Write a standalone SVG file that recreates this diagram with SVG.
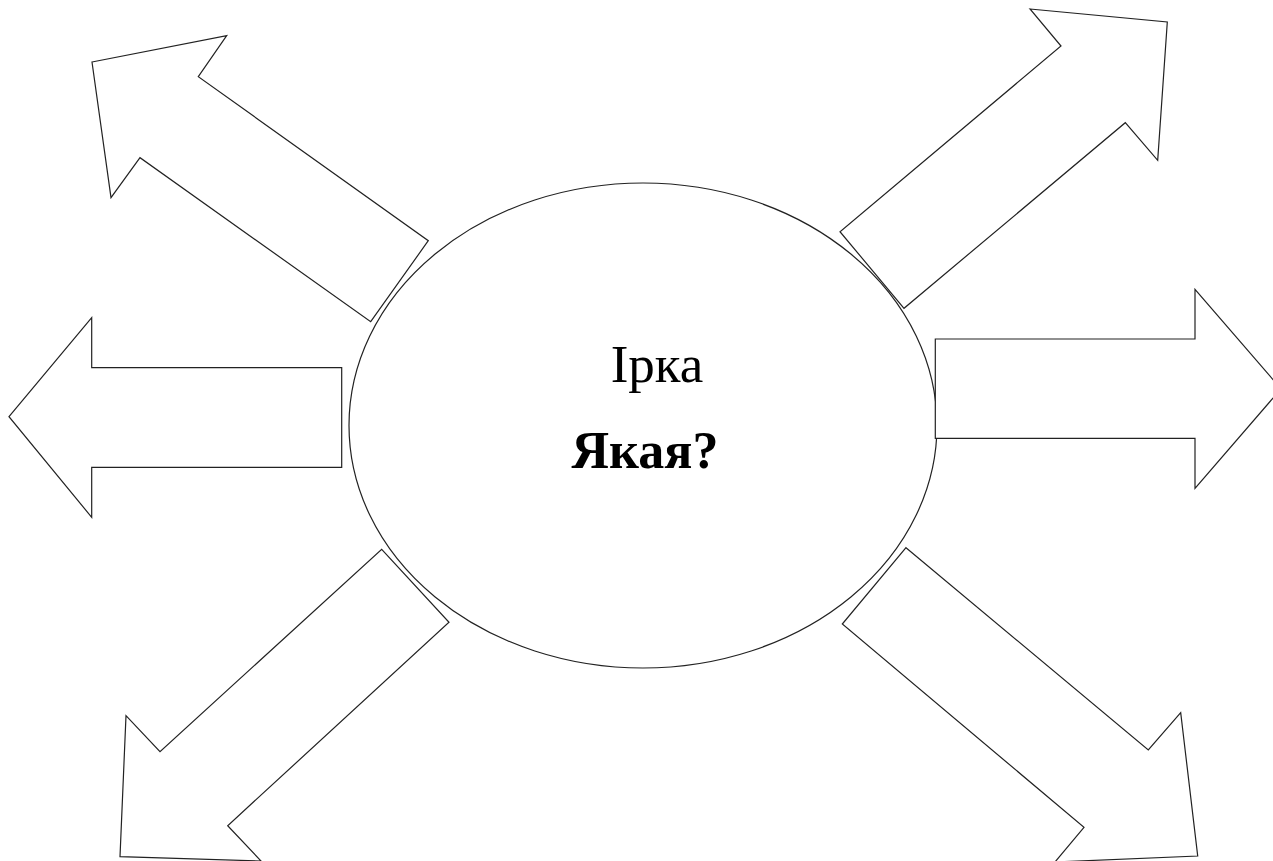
<svg xmlns="http://www.w3.org/2000/svg" width="1273" height="861" viewBox="0 0 1273 861">
<style>
.shape{fill:#ffffff;stroke:#222222;stroke-width:1.2;stroke-linejoin:miter}
.t{font-family:"Liberation Serif","Times New Roman",serif;fill:#000000;text-anchor:middle}
</style>
<rect width="1273" height="861" fill="#ffffff"/>
<g id="center">
<ellipse class="shape" cx="643" cy="425.5" rx="294" ry="242.5"/>
<text class="t" x="657" y="382" font-size="53">Ірка</text>
<text class="t" x="645" y="468" font-size="52" font-weight="bold">Якая?</text>
</g>
<g id="connectors">
<g id="arrow-up-left"><polygon class="shape" points="92,62 226.7,35.7 198.3,76.7 428.3,240.7 370.7,321.7 140,157.7 111,197.7"/></g>
<g id="arrow-up-right"><polygon class="shape" points="1030,9 1167.3,22 1157.7,160.3 1125.3,122.7 904,308.3 840,231.7 1061,46"/></g>
<g id="arrow-left"><polygon class="shape" points="9,416.7 91.7,317.7 91.7,367.7 341.7,367.7 341.7,467.3 91.7,467.3 91.7,517.3"/></g>
<g id="arrow-right"><polygon class="shape" points="935.3,339 1195,339 1195,289.3 1281,388.8 1195,488.3 1195,438.3 935.3,438.3"/></g>
<g id="arrow-down-left"><polygon class="shape" points="381.7,549.3 449,622.3 227.7,825.7 261,861 120,856.7 126,715.7 160,751.7"/></g>
<g id="arrow-down-right"><polygon class="shape" points="906,547.7 1148.3,750 1180.7,712.7 1197.7,856 1055,862 1084,827.3 842.3,624"/></g>
</g>
</svg>
